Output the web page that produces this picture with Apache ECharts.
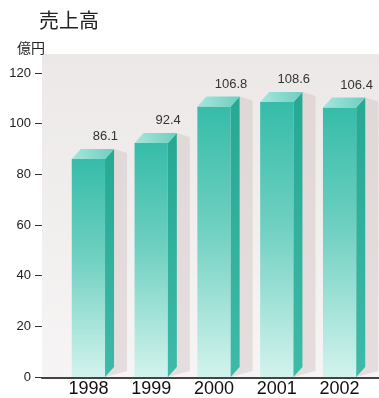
<!DOCTYPE html>
<html><head><meta charset="utf-8">
<script src="https://cdn.jsdelivr.net/npm/echarts@6/dist/echarts.min.js"></script>
<style>html,body{margin:0;padding:0;background:#fff}#c{width:379px;height:398px}</style>
</head><body><div id="c"></div>
<script>
const categories = ['1998', '1999', '2000', '2001', '2002'];
const sales = [86.1, 92.4, 106.8, 108.6, 106.4];
const yTicks = [0, 20, 40, 60, 80, 100, 120];

const chart = echarts.init(document.getElementById('c'), null, {renderer: 'canvas'});
const DX = 9, DY = 10;

function renderBar(params, api) {
  const idx = api.value(0);
  const v = api.value(1);
  const top = api.coord([idx, v]);
  const base = api.coord([idx, 0]);
  const bw = api.size([1, 0])[0] * 0.53;
  const l = top[0] - bw / 2, r = top[0] + bw / 2;
  const ty = top[1], by = base[1];
  return {
    type: 'group',
    children: [
      { type: 'polygon', shape: { points: [[r + DX, ty - DY], [r + DX + 13, ty - DY + 4], [r + DX + 13, by - 6], [r, by]] },
        style: { fill: 'rgba(200,180,180,0.35)' } },
      { type: 'rect', shape: { x: l, y: ty, width: bw, height: by - ty },
        style: { fill: new echarts.graphic.LinearGradient(0, 0, 0, 1, [
          { offset: 0, color: '#36bca9' }, { offset: 0.45, color: '#6fd0c1' }, { offset: 1, color: '#d2f3ed' }]) } },
      { type: 'polygon', shape: { points: [[r, ty], [r + DX, ty - DY], [r + DX, by - DY], [r, by]] },
        style: { fill: new echarts.graphic.LinearGradient(0, 0, 0, 1, [
          { offset: 0, color: '#26a893' }, { offset: 1, color: '#3ebaa8' }]) } },
      { type: 'polygon', shape: { points: [[l, ty], [l + DX, ty - DY], [r + DX, ty - DY], [r, ty]] },
        style: { fill: new echarts.graphic.LinearGradient(0, 0, 1, 0, [
          { offset: 0, color: '#a6e6dc' }, { offset: 1, color: '#6ccfc0' }]) } },
      { type: 'text', style: { x: top[0] + 17, y: ty - 22, text: String(v), fill: '#333',
          font: '13px "Liberation Sans", Arial, sans-serif', align: 'center', verticalAlign: 'middle' } }
    ]
  };
}

chart.setOption({
  animation: false,
  title: [
    { text: '売上高', left: 39, top: 10, padding: 0, textStyle: { fontSize: 20, fontWeight: 'normal', color: '#222', fontFamily: '"Noto Sans CJK JP", sans-serif' } },
    { text: '億円', left: 17, top: 41, padding: 0, textStyle: { fontSize: 14, fontWeight: 'normal', color: '#222', fontFamily: '"Noto Sans CJK JP", sans-serif' } }
  ],
  graphic: [
    { type: 'polygon', z: -10, shape: { points: [[42, 64], [62, 54], [62, 366], [42, 378]] },
      style: { fill: new echarts.graphic.LinearGradient(0, 0, 1, 0, [
        { offset: 0, color: '#c9c0c0' }, { offset: 0.6, color: '#ddd6d6' }, { offset: 1, color: '#f3efef' }]) } },
    { type: 'polygon', z: -10, shape: { points: [[42, 378], [62, 366], [379, 366], [379, 378]] },
      style: { fill: '#efecec' } }
  ],
  grid: [
    { left: 57, right: 8, top: 73, bottom: 20 },
    { left: 42, right: 0, top: 54, bottom: 20, show: true, borderWidth: 0,
      backgroundColor: new echarts.graphic.LinearGradient(0, 0, 0, 1, [
        { offset: 0, color: '#ece8e8' }, { offset: 1, color: '#f6f4f4' }]) }
  ],
  xAxis: [
    { type: 'category', gridIndex: 0, data: categories, boundaryGap: true,
      axisLine: { show: false }, axisTick: { show: false },
      axisLabel: { margin: 3, fontSize: 18, color: '#111', fontFamily: '"Liberation Sans", Arial, sans-serif' } },
    { type: 'value', gridIndex: 1, min: 0, max: 1, axisLine: { show: true, lineStyle: { color: '#444', width: 2 } },
      axisTick: { show: false }, axisLabel: { show: false }, splitLine: { show: false } }
  ],
  yAxis: [
    { type: 'value', gridIndex: 0, min: yTicks[0], max: yTicks[yTicks.length - 1], interval: 20, offset: 15,
      axisLine: { show: false }, axisTick: { show: true, length: 7, lineStyle: { color: '#333' } },
      axisLabel: { margin: 11, fontSize: 13, color: '#222', fontFamily: '"Liberation Sans", Arial, sans-serif' },
      splitLine: { show: false } },
    { type: 'value', gridIndex: 1, show: false, min: 0, max: 1 }
  ],
  series: [
    { type: 'custom', xAxisIndex: 0, yAxisIndex: 0, renderItem: renderBar,
      data: sales.map((v, i) => [i, v]), clip: false }
  ]
});
</script>
</body></html>
